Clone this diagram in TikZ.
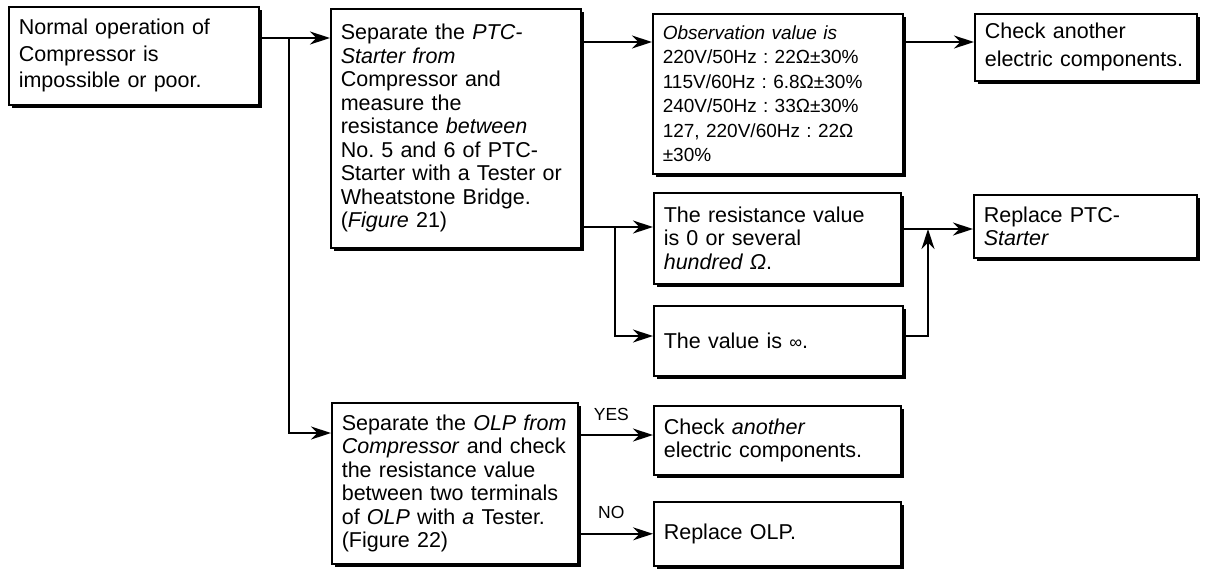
\documentclass[tikz,border=0pt]{standalone}
\usepackage{fontspec}
\setmainfont{Liberation Sans}
\usetikzlibrary{arrows.meta,shadows}
\hyphenpenalty=10000
\exhyphenpenalty=10000
\frenchspacing

\begin{document}
\begin{tikzpicture}[x=0.5pt,y=-0.5pt,
  box/.style={draw=black,line width=0.8pt,fill=white,anchor=north west,
    inner xsep=5pt,inner ysep=0pt,align=left,
    font=\fontsize{10.75}{11.75}\selectfont,
    drop shadow={shadow xshift=1.8pt,shadow yshift=-1.8pt,fill=black,opacity=1}},
  link/.style={draw=black,line width=0.8pt},
  arr/.style={link,-{Stealth[length=10pt,width=6.5pt]}},
  tag/.style={font=\fontsize{8.75}{10}\selectfont,inner sep=1pt}]
  \useasboundingbox (0,0) rectangle (1207,569);

  \node[box,minimum width=125pt,minimum height=49pt,text width=115pt,
    font=\fontsize{10.75}{13.2}\selectfont] (fault) at (8,6)
    {Normal operation of\\Compressor is\\impossible or poor.};
  \node[box,minimum width=125pt,minimum height=119.5pt,text width=115pt] (ptc) at (330,8)
    {Separate the \textit{PTC-}\\\textit{Starter from}\\Compressor and\\measure the\\
     resistance \textit{between}\\No. 5 and 6 of PTC-\\Starter with a Tester or\\
     Wheatstone Bridge.\\(\textit{Figure} 21)};
  \node[box,minimum width=125pt,minimum height=80pt,text width=115pt,
    font=\fontsize{9.5}{12.2}\selectfont] (obs) at (652,13)
    {\textit{Observation value is}\\220V/50Hz : 22Ω±30\%\\115V/60Hz : 6.8Ω±30\%\\
     240V/50Hz : 33Ω±30\%\\127, 220V/60Hz : 22Ω\\±30\%};
  \node[box,minimum width=111pt,minimum height=33.5pt,text width=101pt,
    font=\fontsize{10.75}{14}\selectfont] (other) at (974,13)
    {Check another\\electric components.};
  \node[box,minimum width=123.5pt,minimum height=45.5pt,text width=113.5pt] (low) at (653,192)
    {The resistance value\\is 0 or several\\\textit{hundred Ω}.};
  \node[box,minimum width=111.5pt,minimum height=31.5pt,text width=101.5pt] (newptc) at (973,194)
    {Replace PTC-\\\textit{Starter}};
  \node[box,minimum width=124.5pt,minimum height=35pt,text width=114.5pt] (open) at (653,305)
    {The value is {\small ∞}.};
  \node[box,minimum width=123pt,minimum height=80.5pt,text width=113pt] (olp) at (331,402)
    {Separate the \textit{OLP from}\\\textit{Compressor} and check\\the resistance value\\
     between two terminals\\of \textit{OLP} with \textit{a} Tester.\\(Figure 22)};
  \node[box,minimum width=123.5pt,minimum height=34.5pt,text width=113.5pt] (olpok) at (653,405)
    {Check \textit{another}\\electric components.};
  \node[box,minimum width=123.5pt,minimum height=32pt,text width=113.5pt] (newolp) at (653,501)
    {Replace OLP.};

  % branch points
  \coordinate (jtop) at (289,38);
  \coordinate (jolp) at (289,433);
  \coordinate (rowobs) at (0,42);
  \coordinate (jres) at (615,227);
  \coordinate (jinf) at (615,336);
  \coordinate (rowrep) at (0,229);
  \coordinate (jup) at (928,229);
  \coordinate (rowyes) at (0,435);

  \draw[link] (fault.east |- jtop) -- (jtop);
  \draw[arr] (jtop) -- (ptc.west |- jtop);
  \draw[arr] (jtop) -- (jolp) -- (olp.west |- jolp);
  \draw[arr] (ptc.east |- rowobs) -- (obs.west |- rowobs);
  \draw[arr] (obs.east |- rowobs) -- (other.west |- rowobs);
  \draw[link] (ptc.east |- jres) -- (jres);
  \draw[arr] (jres) -- (low.west |- jres);
  \draw[arr] (jres) -- (jinf) -- (open.west |- jinf);
  \draw[arr] (low.east |- rowrep) -- (newptc.west |- rowrep);
  \draw[arr] (open.east |- jinf) -| (jup);
  \draw[arr] (olp.east |- rowyes) -- node[tag,above=6pt,pos=0.44] (yes) {YES} (olpok.west |- rowyes);
  \draw[arr] (olp.east |- newolp.west) -- node[tag,above=6pt,pos=0.44] (no) {NO} (newolp.west);
\end{tikzpicture}
\end{document}
